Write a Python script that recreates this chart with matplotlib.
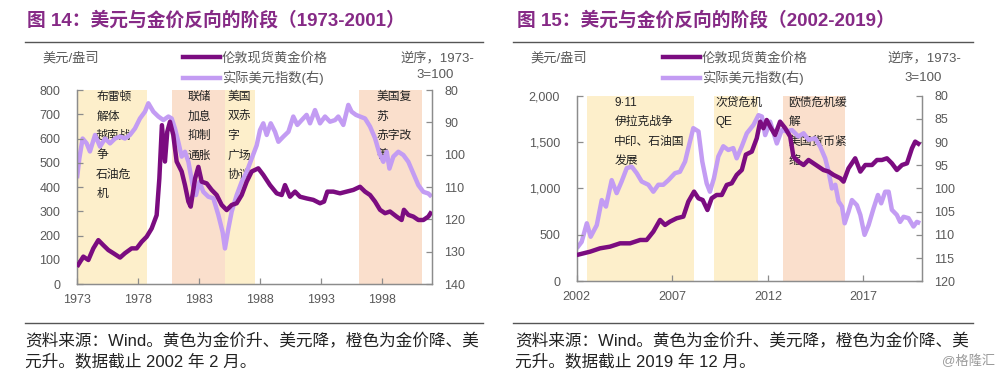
import matplotlib
matplotlib.use('Agg')
import matplotlib.pyplot as plt
from matplotlib.lines import Line2D

plt.rcParams['font.family'] = ['Liberation Sans', 'Noto Sans CJK SC']

# ---- 图14 data (1973-2002) ----
gold1_t = [1973.0, 1973.52, 1973.93, 1974.34, 1974.75, 1975.16, 1975.57, 1975.98, 1976.53, 1976.93,
           1977.48, 1977.89, 1978.30, 1978.71, 1979.12, 1979.53, 1979.75, 1979.96, 1980.21, 1980.40,
           1980.62, 1980.89, 1981.17, 1981.58, 1981.85, 1982.13, 1982.32, 1982.68, 1982.95, 1983.22,
           1983.63, 1984.04, 1984.45, 1984.86, 1985.27, 1985.68, 1986.09, 1986.50, 1986.91, 1987.32,
           1987.86, 1988.27, 1988.82, 1989.37, 1989.78, 1990.05, 1990.46, 1990.87, 1991.28, 1991.82,
           1992.37, 1992.92, 1993.25, 1993.52, 1994.01, 1994.56, 1995.10, 1995.65, 1996.20, 1996.61,
           1997.02, 1997.43, 1997.84, 1998.25, 1998.66, 1999.20, 1999.61, 1999.80, 2000.16, 2000.57,
           2000.98, 2001.39, 2001.80, 2002.07]
gold1_v = [71, 113, 99, 147, 181, 160, 140, 127, 109, 127,
           147, 147, 174, 195, 229, 284, 435, 655, 505, 628,
           669, 615, 505, 464, 408, 340, 319, 435, 483, 422,
           415, 388, 367, 326, 305, 326, 333, 367, 422, 464,
           477, 450, 408, 374, 367, 408, 360, 381, 360, 353,
           347, 333, 340, 381, 381, 374, 381, 388, 401, 381,
           367, 340, 306, 292, 299, 278, 264, 306, 285, 278,
           264, 264, 278, 299]

usd1_t = [1973.0, 1973.19, 1973.46, 1973.79, 1974.06, 1974.48, 1974.89, 1975.30, 1975.71, 1976.12,
          1976.53, 1976.93, 1977.34, 1977.75, 1978.16, 1978.57, 1978.85, 1979.26, 1979.67, 1980.08,
          1980.49, 1980.76, 1981.03, 1981.30, 1981.58, 1981.85, 1982.13, 1982.48, 1982.75, 1983.03,
          1983.36, 1983.77, 1984.18, 1984.59, 1984.94, 1985.13, 1985.41, 1985.68, 1986.09, 1986.50,
          1986.91, 1987.32, 1987.73, 1988.00, 1988.27, 1988.55, 1988.88, 1989.23, 1989.51, 1989.92,
          1990.33, 1990.73, 1991.06, 1991.42, 1991.82, 1992.10, 1992.51, 1992.92, 1993.33, 1993.74,
          1994.15, 1994.42, 1994.83, 1995.24, 1995.51, 1995.87, 1996.20, 1996.61, 1997.02, 1997.43,
          1997.79, 1998.11, 1998.39, 1998.61, 1998.93, 1999.34, 1999.75, 2000.16, 2000.57, 2000.98,
          2001.39, 2001.80, 2002.07]
usd1_v = [107.3, 101.2, 95.0, 96.5, 99.0, 93.9, 97.5, 95.0, 96.5, 95.0,
          94.4, 95.0, 93.9, 91.9, 88.8, 86.7, 84.1, 86.7, 88.2, 89.3,
          88.2, 88.8, 91.9, 96.0, 100.6, 99.1, 102.2, 109.4, 112.5, 108.4,
          111.5, 113.0, 113.5, 118.7, 124.0, 129.0, 122.8, 117.6, 112.5, 108.4,
          105.3, 101.2, 97.1, 92.4, 90.3, 93.9, 90.3, 92.9, 96.0, 94.4,
          92.9, 88.2, 90.8, 89.3, 87.7, 90.3, 86.2, 90.3, 88.2, 89.8,
          89.3, 88.2, 90.8, 84.6, 86.7, 87.7, 88.2, 88.8, 91.3, 94.9,
          99.6, 102.2, 99.1, 104.3, 100.6, 99.1, 100.1, 102.2, 105.8, 109.4,
          111.5, 112.0, 113.0]

# ---- 图15 data (2002-2019) ----
gold2_t = [2002.0, 2002.7, 2003.22, 2003.74, 2004.27, 2004.79, 2005.32, 2005.66, 2006.01, 2006.36,
           2006.62, 2006.88, 2007.23, 2007.58, 2007.84, 2008.14, 2008.37, 2008.59, 2008.84, 2009.06,
           2009.32, 2009.59, 2009.85, 2010.11, 2010.37, 2010.64, 2010.85, 2011.16, 2011.42, 2011.60,
           2011.77, 2011.94, 2012.17, 2012.38, 2012.64, 2012.91, 2013.17, 2013.34, 2013.60, 2013.87,
           2014.13, 2014.39, 2014.65, 2014.91, 2015.18, 2015.44, 2015.79, 2015.96, 2016.22, 2016.57,
           2016.84, 2017.10, 2017.45, 2017.71, 2017.97, 2018.23, 2018.49, 2018.75, 2019.02, 2019.28,
           2019.54, 2019.71, 2019.97]
gold2_v = [283, 319, 355, 373, 409, 409, 445, 445, 535, 661,
           607, 643, 679, 697, 858, 966, 894, 876, 768, 894,
           930, 930, 1038, 1056, 1146, 1200, 1365, 1397, 1541, 1720,
           1649, 1738, 1649, 1577, 1720, 1649, 1559, 1343, 1289, 1253,
           1307, 1271, 1235, 1199, 1182, 1146, 1110, 1074, 1217, 1325,
           1182, 1253, 1253, 1307, 1307, 1325, 1271, 1199, 1253, 1271,
           1433, 1505, 1469]

usd2_t = [2002.0, 2002.26, 2002.53, 2002.73, 2003.05, 2003.31, 2003.53, 2003.83, 2004.09, 2004.35,
          2004.62, 2004.88, 2005.14, 2005.40, 2005.75, 2006.01, 2006.27, 2006.53, 2006.80, 2007.14,
          2007.40, 2007.67, 2007.84, 2008.10, 2008.37, 2008.57, 2008.80, 2008.97, 2009.18, 2009.41,
          2009.67, 2009.93, 2010.19, 2010.37, 2010.64, 2010.90, 2011.25, 2011.51, 2011.69, 2011.86,
          2012.12, 2012.47, 2012.73, 2013.0, 2013.26, 2013.60, 2013.87, 2014.13, 2014.48, 2014.74,
          2015.0, 2015.18, 2015.35, 2015.53, 2015.70, 2015.88, 2016.02, 2016.22, 2016.40, 2016.66,
          2016.84, 2017.06, 2017.27, 2017.53, 2017.76, 2017.93, 2018.14, 2018.32, 2018.49, 2018.75,
          2018.92, 2019.10, 2019.36, 2019.62, 2019.80, 2019.97]
usd2_v = [112.9, 111.5, 107.5, 110.4, 107.9, 102.5, 103.9, 98.2, 101.0, 98.5,
          95.6, 95.3, 96.7, 98.5, 99.2, 100.7, 99.2, 99.2, 98.2, 96.7,
          96.4, 94.2, 91.3, 87.0, 87.7, 94.2, 98.9, 100.7, 97.8, 93.1,
          90.9, 91.7, 91.3, 93.5, 90.9, 88.1, 86.3, 84.2, 84.5, 88.5,
          85.6, 90.3, 87.4, 87.7, 87.4, 88.8, 88.1, 89.5, 89.2, 91.0,
          93.5, 96.4, 100.0, 99.2, 102.8, 103.9, 107.5, 105.0, 102.5, 103.6,
          105.7, 110.0, 107.9, 104.3, 101.4, 103.2, 100.7, 100.7, 104.6, 105.7,
          107.2, 106.1, 106.4, 108.2, 107.2, 107.5]

# shaded phases: (start, end, kind)  yellow = 金价升美元降, orange = 金价降美元升
phases1 = [(1973.0, 1978.7, 'y'), (1980.8, 1985.1, 'o'), (1985.1, 1987.6, 'y'), (1996.1, 2001.3, 'o')]
phases2 = [(2002.55, 2008.15, 'y'), (2009.2, 2011.5, 'y'), (2012.8, 2016.05, 'o')]

notes1 = [(0.054, '布雷顿\n解体\n越南战\n争\n石油危\n机'), (0.311, '联储\n加息\n抑制\n通胀'),
          (0.424, '美国\n双赤\n字\n广场\n协议'), (0.844, '美国复\n苏\n赤字改\n善')]
notes2 = [(0.109, '9·11\n伊拉克战争\n中印、石油国\n发展'), (0.401, '次贷危机\nQE'),
          (0.613, '欧债危机缓\n解\n美国货币紧\n缩')]

GOLD = '#7B0C80'
USD = '#C39CF3'
FILL = {'y': '#FDEFCB', 'o': '#FADFCC'}
GRAY = '#595959'
TITLE_C = '#862A86'

fig = plt.figure(figsize=(10, 3.74), dpi=100)


def panel(rect, gt, gv, ut, uv, phases, notes, xlim, ylim, y2lim, xticks, yticks, y2ticks, yfmt):
    ax2 = fig.add_axes(rect)
    ax = ax2.twinx()  # gold axis sits on top
    ax.yaxis.tick_left()
    ax2.yaxis.tick_right()
    for s, e, k in phases:
        ax2.axvspan(s, e, color=FILL[k], lw=0, zorder=0)
    for xf, txt in notes:
        ax2.text(xf, 0.995, txt, transform=ax2.transAxes, fontsize=8.5, va='top', ha='left',
                 linespacing=1.83, color='#222222', zorder=1)
    ax2.plot(ut, uv, color=USD, lw=3.2, zorder=2, solid_capstyle='butt')
    ax.plot(gt, gv, color=GOLD, lw=3.2, zorder=3, solid_capstyle='butt')
    ax.set_xlim(*xlim)
    ax.set_ylim(*ylim)
    ax2.set_ylim(*y2lim)
    ax.set_xticks(xticks)
    ax.set_yticks(yticks)
    ax.set_yticklabels([yfmt(v) for v in yticks])
    ax2.set_yticks(y2ticks)
    for a in (ax, ax2):
        for sp in a.spines.values():
            sp.set_color('#8c8c8c')
            sp.set_linewidth(0.9)
        a.spines['top'].set_visible(False)
        a.tick_params(direction='in', length=4, width=0.9, color='#8c8c8c',
                      labelsize=9, labelcolor=GRAY)
    ax.tick_params(axis='y', pad=12)
    ax2.tick_params(axis='y', pad=9)
    ax.tick_params(axis='x', pad=7)
    ax2.tick_params(axis='x', pad=7)
    ax.patch.set_visible(False)
    return ax, ax2


ax_a, ax_a2 = panel([0.077, 0.2406, 0.355, 0.5187], gold1_t, gold1_v, usd1_t, usd1_v, phases1, notes1,
                    (1973, 2002.1), (0, 800), (140, 80),
                    [1973, 1978, 1983, 1988, 1993, 1998], list(range(0, 801, 100)),
                    list(range(80, 141, 10)), lambda v: f'{v}')
ax_b, ax_b2 = panel([0.5767, 0.2479, 0.345, 0.4963], gold2_t, gold2_v, usd2_t, usd2_v, phases2, notes2,
                    (2002, 2020.05), (0, 2000), (120, 80),
                    [2002, 2007, 2012, 2017], list(range(0, 2001, 500)),
                    list(range(80, 121, 5)), lambda v: f'{v:,}')

# legends, titles and decorations
for lx, ly in ((0.183, 0.86), (0.663, 0.86)):
    h = [Line2D([], [], color=GOLD, lw=3.2), Line2D([], [], color=USD, lw=3.2)]
    fig.legend(h, ['伦敦现货黄金价格', '实际美元指数(右)'], loc='upper left',
               bbox_to_anchor=(lx, ly), frameon=False, fontsize=9.5, handlelength=2.8,
               handletextpad=0.15, labelspacing=0.45, labelcolor=GRAY, borderpad=0, borderaxespad=0)

fig.text(0.042, 0.845, '美元/盎司', fontsize=9.5, color=GRAY, va='center')
fig.text(0.437, 0.845, '逆序，1973-', fontsize=9.5, color=GRAY, va='center', ha='center')
fig.text(0.435, 0.80, '3=100', fontsize=9.5, color=GRAY, va='center', ha='center')
fig.text(0.530, 0.845, '美元/盎司', fontsize=9.5, color=GRAY, va='center')
fig.text(0.924, 0.845, '逆序，1973-', fontsize=9.5, color=GRAY, va='center', ha='center')
fig.text(0.923, 0.792, '3=100', fontsize=9.5, color=GRAY, va='center', ha='center')

fig.text(0.027, 0.947, '图 14：美元与金价反向的阶段（1973-2001）', fontsize=13.5, fontweight='bold',
         color=TITLE_C, va='center')
fig.text(0.517, 0.947, '图 15：美元与金价反向的阶段（2002-2019）', fontsize=13.5, fontweight='bold',
         color=TITLE_C, va='center')

for x0, x1 in ((0.025, 0.483), (0.513, 0.973)):
    fig.add_artist(Line2D([x0, x1], [0.888, 0.888], transform=fig.transFigure, color='#555555', lw=1))
    fig.add_artist(Line2D([x0, x1], [0.137, 0.137], transform=fig.transFigure, color='#555555', lw=1))

fig.text(0.025, 0.087, '资料来源：Wind。黄色为金价升、美元降，橙色为金价降、美', fontsize=12, color='#222222', va='center')
fig.text(0.025, 0.033, '元升。数据截止 2002 年 2 月。', fontsize=12, color='#222222', va='center')
fig.text(0.515, 0.087, '资料来源：Wind。黄色为金价升、美元降，橙色为金价降、美', fontsize=12, color='#222222', va='center')
fig.text(0.515, 0.033, '元升。数据截止 2019 年 12 月。', fontsize=12, color='#222222', va='center')
fig.text(0.995, 0.033, '@格隆汇', fontsize=9.5, color='#9a9a9a', va='center', ha='right')

fig.savefig('out.png', dpi=100)
